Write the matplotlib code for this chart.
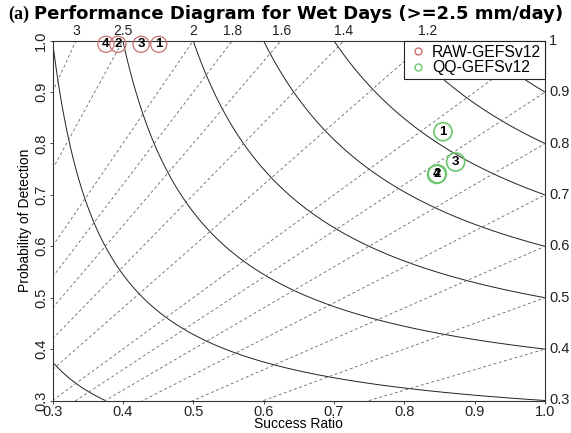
import numpy as np
import matplotlib
matplotlib.use("Agg")
import matplotlib.pyplot as plt
from matplotlib.lines import Line2D

plt.rcParams['font.family'] = ['Liberation Sans', 'DejaVu Sans']

# ---- data ----
bias_levels = [0.3, 0.4, 0.5, 0.6, 0.7, 0.8, 0.9, 1.0, 1.2, 1.4, 1.6, 1.8, 2.0, 2.5, 3.0]
top_bias_labels = ["1.2", "1.4", "1.6", "1.8", "2", "2.5", "3"]
top_bias_values = [1.2, 1.4, 1.6, 1.8, 2.0, 2.5, 3.0]
right_labels = ["0.3", "0.4", "0.5", "0.6", "0.7", "0.8", "0.9", "1"]
right_values = [0.3, 0.4, 0.5, 0.6, 0.7, 0.8, 0.9, 1.0]
csi_levels = [0.1, 0.2, 0.3, 0.4, 0.5, 0.6, 0.7, 0.8, 0.9]

point_ids = ["1", "2", "3", "4"]
raw_sr = [0.451, 0.393, 0.426, 0.376]
raw_pod = [0.993, 0.993, 0.993, 0.993]
qq_sr = [0.855, 0.847, 0.873, 0.846]
qq_pod = [0.823, 0.741, 0.764, 0.740]

raw_color = "#c87070"
qq_color = "#6cc86c"

fig = plt.figure(figsize=(5.71, 4.33), dpi=100)
ax = fig.add_axes([52.5/571, 1-400.5/433, (545-52.5)/571, (400.5-40.7)/433])
ax.set_xlim(0.3, 1.0)
ax.set_ylim(0.3, 1.0)

# CSI contours
sr = np.linspace(0.3, 1.0, 400)
pod = np.linspace(0.3, 1.0, 400)
SR, POD = np.meshgrid(sr, pod)
CSI = 1.0 / (1.0/SR + 1.0/POD - 1.0)
ax.contour(SR, POD, CSI, levels=csi_levels, colors="#222222", linewidths=0.7)

# bias lines
xs = np.linspace(0.3, 1.0, 200)
for b in bias_levels:
    ax.plot(xs, b*xs, color="#666666", lw=0.6, ls=(0, (3.5, 3)))

# top bias labels
for lab, b in zip(top_bias_labels, top_bias_values):
    ax.text(1.0/b, 1.006, lab, ha="center", va="bottom", fontsize=10,
            color="#222222", clip_on=False)
# right labels
for lab, v in zip(right_labels, right_values):
    ax.text(1.006, v, lab, ha="left", va="center",
            fontsize=10.5, color="#222222", clip_on=False)

# points
ax.scatter(raw_sr, raw_pod, s=135, facecolors="none", edgecolors=raw_color,
           linewidths=0.9, clip_on=False, zorder=5)
ax.scatter(qq_sr, qq_pod, s=170, facecolors="none", edgecolors=qq_color,
           linewidths=1.2, clip_on=False, zorder=5)
for i, x, y in zip(point_ids, raw_sr, raw_pod):
    ax.text(x, y, i, ha="center", va="center", fontsize=9.5, fontweight="bold",
            zorder=6, clip_on=False)
for i, x, y in zip(point_ids, qq_sr, qq_pod):
    ax.text(x, y, i, ha="center", va="center", fontsize=9.5, fontweight="bold",
            zorder=6)

# axes styling
ax.set_xticks(np.arange(0.3, 1.01, 0.1))
ax.set_xticklabels(["0.3", "0.4", "0.5", "0.6", "0.7", "0.8", "0.9", "1.0"])
ax.set_yticks(np.arange(0.3, 1.01, 0.1))
ax.set_yticklabels(["0.3", "0.4", "0.5", "0.6", "0.7", "0.8", "0.9", "1.0"],
                   rotation=90, va="center")
ax.tick_params(axis="both", labelsize=10.5, length=2, width=0.6, pad=1,
               colors="#222222")
for sp in ax.spines.values():
    sp.set_linewidth(0.8)
    sp.set_color("#333333")
ax.set_xlabel("Success Ratio", fontsize=10, labelpad=-1)
ax.set_ylabel("Probability of Detection", fontsize=10, labelpad=2)

handles = [Line2D([], [], marker="o", ls="none", markerfacecolor="none",
                  markeredgecolor=raw_color, markersize=5, label="RAW-GEFSv12"),
           Line2D([], [], marker="o", ls="none", markerfacecolor="none",
                  markeredgecolor=qq_color, markersize=5, label="QQ-GEFSv12")]
leg = ax.legend(handles=handles, loc="upper right", bbox_to_anchor=(1, 1),
                borderaxespad=0, fontsize=11.3, fancybox=False, framealpha=1,
                edgecolor="#222222", handletextpad=0.3, borderpad=0.25,
                labelspacing=0.05, handlelength=1.2)
leg.get_frame().set_linewidth(0.8)
leg.set_zorder(10)

# title
fig.text(8/571, 1-14/433, "(a)", family=["Liberation Serif"], fontweight="bold",
         fontsize=13, va="center", ha="left")
fig.text(34/571, 1-14/433, "Performance Diagram for Wet Days (>=2.5 mm/day)",
         family=["DejaVu Sans"], fontweight="bold", fontsize=13, va="center",
         ha="left")

fig.savefig("out.png", dpi=100)
